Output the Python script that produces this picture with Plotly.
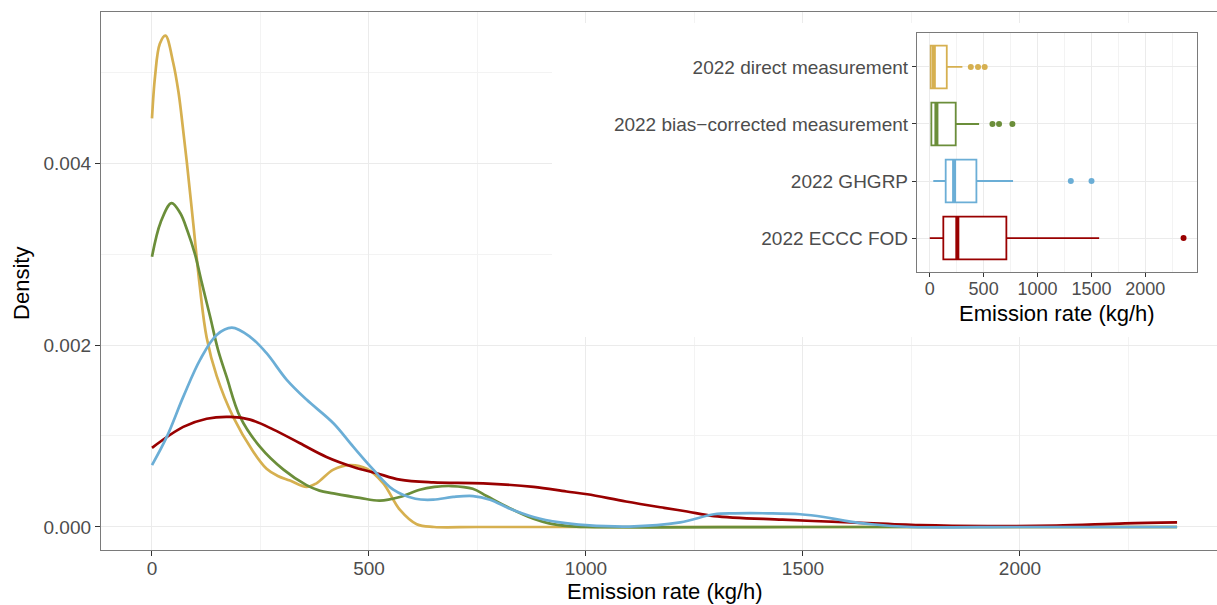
import plotly.graph_objects as go

# ---- density curves (emission rate in kg/h vs. kernel density) ----
direct_x = [0, 7, 18, 31, 49, 61, 68, 80, 95, 110, 126, 149, 187, 233, 264, 290, 318, 356,
            379, 418, 456, 495, 533, 571, 610, 650, 750, 1000, 1500, 2000, 2362]
direct_d = [0.00449, 0.00495, 0.00531, 0.00540, 0.00510, 0.00478, 0.00452, 0.00402, 0.00334,
            0.00265, 0.00208, 0.00166, 0.00121, 0.00083, 0.00064, 0.00056, 0.00051, 0.00044,
            0.00048, 0.00063, 0.00068, 0.00064, 0.00048, 0.00019, 0.00003, 0.0, 0.0, 0.0,
            0.0, 0.0, 0.0]

biascorr_x = [0, 20, 45, 65, 82, 99, 115, 134, 152, 172, 203, 249, 303, 356, 386, 418, 479,
              525, 571, 617, 651, 690, 739, 771, 827, 879, 915, 960, 1000, 1500, 2000, 2362]
biascorr_d = [0.00297, 0.00335, 0.00356, 0.00345, 0.00325, 0.00300, 0.00268, 0.00231,
              0.00195, 0.00165, 0.00121, 0.00088, 0.00063, 0.00046, 0.00040, 0.00037,
              0.00032, 0.00029, 0.00033, 0.00041, 0.00044, 0.00045, 0.00042, 0.00034,
              0.00020, 0.00009, 0.00004, 0.00001, 0.0, 0.0, 0.0, 0.0]

ghgrp_x = [0, 34, 72, 111, 149, 184, 226, 264, 310, 356, 418, 464, 510, 556, 607, 648, 694,
           740, 779, 825, 879, 940, 1000, 1100, 1217, 1295, 1343, 1420, 1493, 1548, 1595,
           1658, 1750, 2000, 2362]
ghgrp_d = [0.00068, 0.00099, 0.00143, 0.00184, 0.00211, 0.00219, 0.00209, 0.00191, 0.00162,
           0.00140, 0.00114, 0.00088, 0.00063, 0.00041, 0.00031, 0.00030, 0.00033, 0.00034,
           0.00030, 0.00020, 0.00011, 0.00005, 0.00002, 0.000005, 0.00005, 0.00014,
           0.00015, 0.00015, 0.00014, 0.00011, 0.00007, 0.00003, 0.0, 0.0, 0.0]

eccc_x = [0, 72, 126, 180, 226, 280, 341, 402, 464, 518, 571, 648, 763, 879, 955, 1003,
          1092, 1180, 1233, 1295, 1453, 1610, 1769, 1926, 2084, 2242, 2362]
eccc_d = [0.00087, 0.00110, 0.00119, 0.00121, 0.00118, 0.00107, 0.00092, 0.00077, 0.00066,
          0.00059, 0.00052, 0.00049, 0.00048, 0.00044, 0.00039, 0.00036, 0.00028, 0.00021,
          0.00017, 0.00012, 0.00008, 0.00005, 0.00002, 0.00001, 0.000016, 0.00004, 0.00005]

# ---- boxplot summaries (kg/h), bottom to top ----
groups = ["2022 ECCC FOD", "2022 GHGRP", "2022 bias\u2212corrected measurement",
          "2022 direct measurement"]
box_lower = [0, 33, 15, 9]
box_q1 = [126, 148, 15, 9]
box_median = [256, 226, 62, 38]
box_q3 = [711, 433, 241, 158]
box_upper = [1572, 773, 458, 303]
box_outliers = [[2355], [1309, 1501], [582, 643, 767], [381, 448, 510]]

colors = ["#990000", "#6BAED6", "#6B8E3A", "#D6B050"]

FONT = "Liberation Sans, Arial, Helvetica, sans-serif"
TICK_GREY = "#4D4D4D"
FRAME = "#7A7A7A"
GRID = "#EBEBEB"
GRID_MINOR = "#F3F3F3"

fig = go.Figure()

# density lines
curves = [(direct_x, direct_d, colors[3]),
          (biascorr_x, biascorr_d, colors[2]),
          (eccc_x, eccc_d, colors[0]),
          (ghgrp_x, ghgrp_d, colors[1])]
for xs, ds, c in curves:
    fig.add_trace(go.Scatter(x=xs, y=ds, mode="lines",
                             line=dict(color=c, width=2.7, shape="spline", smoothing=1.0),
                             showlegend=False, hoverinfo="skip", xaxis="x", yaxis="y"))

# inset boxplots
for i, g in enumerate(groups):
    pos = i + 1
    c = colors[i]
    fig.add_trace(go.Box(y=[pos], q1=[box_q1[i]], median=[box_median[i]], q3=[box_q3[i]],
                         lowerfence=[box_lower[i]], upperfence=[box_upper[i]],
                         orientation="h", width=0.75, whiskerwidth=0,
                         fillcolor="white", line=dict(color=c, width=1.8),
                         boxpoints=False, showlegend=False, hoverinfo="skip",
                         xaxis="x2", yaxis="y2"))
    fig.add_trace(go.Scatter(x=[box_median[i], box_median[i]], y=[pos - 0.375, pos + 0.375],
                             mode="lines", line=dict(color=c, width=4),
                             showlegend=False, hoverinfo="skip", xaxis="x2", yaxis="y2"))
    fig.add_trace(go.Scatter(x=box_outliers[i], y=[pos] * len(box_outliers[i]),
                             mode="markers", marker=dict(color=c, size=6),
                             showlegend=False, hoverinfo="skip", xaxis="x2", yaxis="y2"))

# white panel behind the inset (hides the main grid there)
fig.add_shape(type="rect", xref="x", yref="y",
              x0=921.7, x1=2460, y0=0.002088, y1=0.005538,
              fillcolor="white", line=dict(width=0), layer="between")

fig.update_layout(
    width=1217, height=605,
    margin=dict(l=101, r=0, t=12, b=55),
    paper_bgcolor="white", plot_bgcolor="white",
    font=dict(family=FONT, color=TICK_GREY, size=19),
    showlegend=False,
    xaxis=dict(domain=[0, 1], range=[-117.5, 2454], tickvals=[0, 500, 1000, 1500, 2000],
               showgrid=True, gridcolor=GRID, gridwidth=1.2,
               minor=dict(tickvals=[250, 750, 1250, 1750, 2250], showgrid=True,
                          gridcolor=GRID_MINOR, gridwidth=0.8),
               zeroline=False, showline=True, linecolor=FRAME, linewidth=1.3, mirror=True,
               ticks="outside", ticklen=5, tickcolor="#333333", tickwidth=1.1,
               ticklabelstandoff=-4,
               tickfont=dict(size=19, color=TICK_GREY)),
    yaxis=dict(domain=[0, 1], range=[-0.000253, 0.00566], tickvals=[0, 0.002, 0.004],
               tickformat=".3f",
               showgrid=True, gridcolor=GRID, gridwidth=1.2,
               minor=dict(tickvals=[0.001, 0.003, 0.005], showgrid=True,
                          gridcolor=GRID_MINOR, gridwidth=0.8),
               zeroline=False, showline=True, linecolor=FRAME, linewidth=1.3, mirror=False,
               ticks="outside", ticklen=5, tickcolor="#333333", tickwidth=1.1,
               tickfont=dict(size=19, color=TICK_GREY)),
    xaxis2=dict(domain=[0.7312, 0.9821], anchor="y2", range=[-118, 2480],
                tickvals=[0, 500, 1000, 1500, 2000],
                showgrid=True, gridcolor=GRID, gridwidth=1.1,
                minor=dict(tickvals=[250, 750, 1250, 1750, 2250], showgrid=True,
                           gridcolor=GRID_MINOR, gridwidth=0.8),
                zeroline=False, showline=True, linecolor=FRAME, linewidth=1.3, mirror=True,
                ticks="outside", ticklen=4, tickcolor="#333333", tickwidth=1.1,
                ticklabelstandoff=-4,
                tickfont=dict(size=18, color=TICK_GREY)),
    yaxis2=dict(domain=[0.5162, 0.9615], anchor="x2", range=[0.4, 4.6],
                tickvals=[1, 2, 3, 4], ticktext=groups,
                showgrid=True, gridcolor=GRID, gridwidth=1.1,
                zeroline=False, showline=True, linecolor=FRAME, linewidth=1.3, mirror=True,
                ticks="outside", ticklen=4, tickcolor="#333333", tickwidth=1.1,
                tickfont=dict(size=19, color=TICK_GREY)),
    annotations=[
        dict(text="Emission rate (kg/h)", xref="paper", yref="paper",
             x=0.5054, y=(550 - 591) / 538, xanchor="center", yanchor="middle",
             showarrow=False, font=dict(size=22, color="black", family=FONT)),
        dict(text="Density", xref="paper", yref="paper", x=-0.0708, y=0.4963,
             xanchor="center", yanchor="middle", textangle=-90, showarrow=False,
             font=dict(size=22, color="black", family=FONT)),
        dict(text="Emission rate (kg/h)", xref="paper", yref="paper",
             x=(1056.5 - 101) / 1116, y=(550 - 313) / 538, xanchor="center",
             yanchor="middle", showarrow=False,
             font=dict(size=22, color="black", family=FONT)),
    ],
)

fig.write_html("out.html")
